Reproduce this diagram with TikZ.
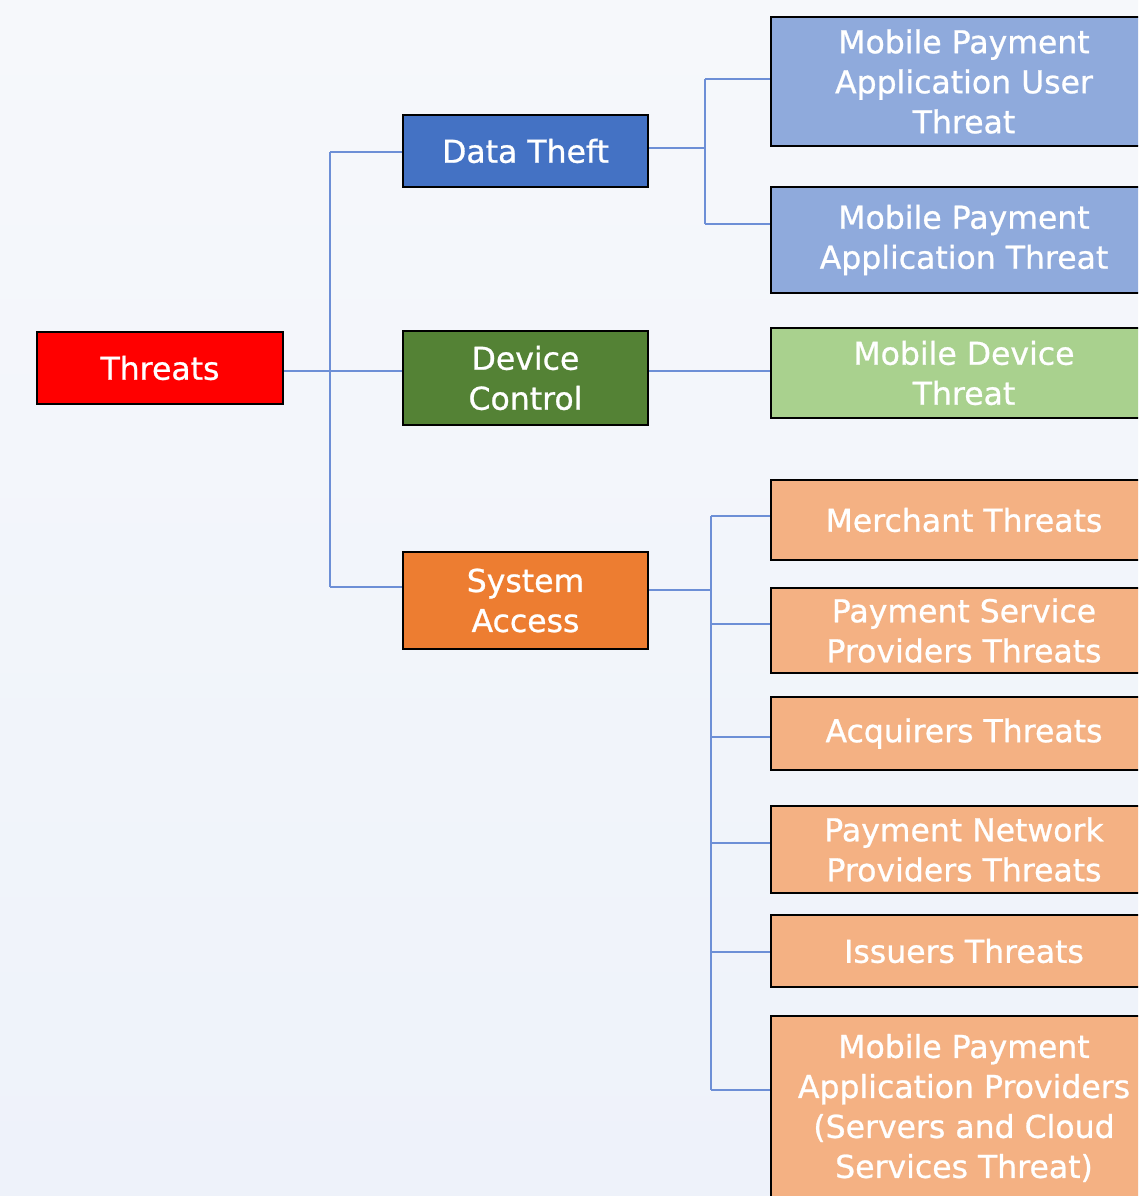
\documentclass[tikz,border=0pt]{standalone}
\usepackage{fontspec}
\setmainfont{DejaVu Sans}[BoldFont=DejaVu Sans, BoldFeatures={FakeBold=0.8}]
\definecolor{cRed}{HTML}{FF0000}
\definecolor{cBlue}{HTML}{4472C4}
\definecolor{cGreen}{HTML}{548235}
\definecolor{cOrange}{HTML}{ED7D31}
\definecolor{cLBlue}{HTML}{8FAADC}
\definecolor{cLGreen}{HTML}{A9D18E}
\definecolor{cLOrange}{HTML}{F4B183}
\definecolor{cLine}{HTML}{6D8FD6}
\definecolor{bgTop}{HTML}{F6F8FB}
\definecolor{bgBot}{HTML}{EEF2FA}
\tikzset{
  box/.style={draw=black, line width=2.4pt, rectangle, align=center, text=white,
    font=\fontsize{31.5}{40}\selectfont\bfseries, inner sep=0pt},
  conn/.style={draw=cLine, line width=1.4pt}
}
\begin{document}
\begin{tikzpicture}[x=1pt,y=-1pt]
\useasboundingbox (0,0) rectangle (1138,1196);
\shade[top color=bgTop, bottom color=bgBot] (0,0) rectangle (1138,1196);
\clip (0,0) rectangle (1138,1196);

% level 0 and 1
\node[box, fill=cRed, minimum width=246pt, minimum height=72pt] (threats) at (160,368) {Threats};
\node[box, fill=cBlue, minimum width=245pt, minimum height=72pt] (theft) at (525.5,151) {Data Theft};
\node[box, fill=cGreen, minimum width=245pt, minimum height=94pt] (devctl) at (525.5,378) {Device\\Control};
\node[box, fill=cOrange, minimum width=245pt, minimum height=97pt] (sysacc) at (525.5,600.5) {System\\Access};

% level 2
\node[box, fill=cLBlue, minimum width=386pt, minimum height=129pt] (mpaut) at (964,81.5) {Mobile Payment\\Application User\\Threat};
\node[box, fill=cLBlue, minimum width=386pt, minimum height=106pt] (mpat) at (964,240) {Mobile Payment\\Application Threat};
\node[box, fill=cLGreen, minimum width=386pt, minimum height=90pt] (mdt) at (964,373) {Mobile Device\\Threat};
\node[box, fill=cLOrange, minimum width=386pt, minimum height=80pt] (merch) at (964,520) {Merchant Threats};
\node[box, fill=cLOrange, minimum width=386pt, minimum height=85pt] (psp) at (964,630.5) {Payment Service\\Providers Threats};
\node[box, fill=cLOrange, minimum width=386pt, minimum height=73pt] (acq) at (964,733.5) {Acquirers Threats};
\node[box, fill=cLOrange, minimum width=386pt, minimum height=87pt] (pnp) at (964,849.5) {Payment Network\\Providers Threats};
\node[box, fill=cLOrange, minimum width=386pt, minimum height=72pt] (iss) at (964,951) {Issuers Threats};
\node[box, fill=cLOrange, minimum width=386pt, minimum height=184pt] (mpap) at (964,1108) {Mobile Payment\\Application Providers\\(Servers and Cloud\\Services Threat)};

% bus coordinates
\coordinate (b1t) at (330,152);
\coordinate (b1m) at (330,371);
\coordinate (b1b) at (330,587);
\coordinate (b2t) at (705,79);
\coordinate (b2m) at (705,148);
\coordinate (b2b) at (705,224);
\coordinate (b3t) at (711,516);
\coordinate (b3m) at (711,590);
\coordinate (b3a) at (711,624);
\coordinate (b3c) at (711,737);
\coordinate (b3d) at (711,843);
\coordinate (b3e) at (711,952);
\coordinate (b3b) at (711,1090);

% level 0 -> 1
\draw[conn] (b1t) -- (b1b);
\draw[conn] (threats.east |- b1m) -- (b1m -| devctl.west);
\draw[conn] (b1t) -- (b1t -| theft.west);
\draw[conn] (b1b) -- (b1b -| sysacc.west);

% data theft -> children
\draw[conn] (b2t) -- (b2b);
\draw[conn] (theft.east |- b2m) -- (b2m);
\draw[conn] (b2t) -- (b2t -| mpaut.west);
\draw[conn] (b2b) -- (b2b -| mpat.west);

% device control -> child
\draw[conn] (devctl.east |- b1m) -- (b1m -| mdt.west);

% system access -> children
\draw[conn] (b3t) -- (b3b);
\draw[conn] (sysacc.east |- b3m) -- (b3m);
\draw[conn] (b3t) -- (b3t -| merch.west);
\draw[conn] (b3a) -- (b3a -| psp.west);
\draw[conn] (b3c) -- (b3c -| acq.west);
\draw[conn] (b3d) -- (b3d -| pnp.west);
\draw[conn] (b3e) -- (b3e -| iss.west);
\draw[conn] (b3b) -- (b3b -| mpap.west);
\end{tikzpicture}
\end{document}
